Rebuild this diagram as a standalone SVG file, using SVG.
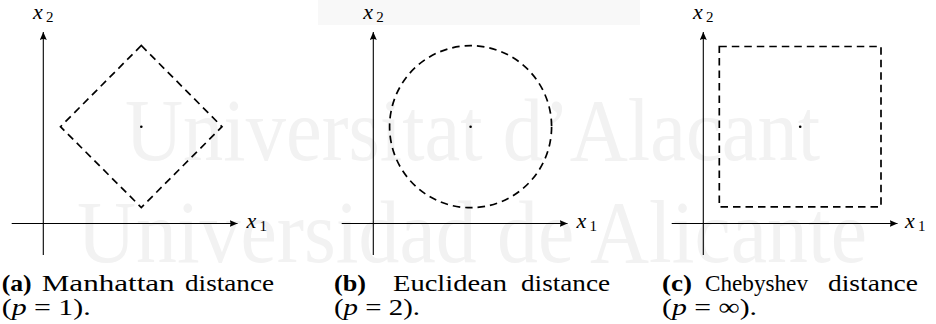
<svg xmlns="http://www.w3.org/2000/svg" width="936" height="324" viewBox="0 0 936 324">
<style>
  .wm { font-size: 88px; fill: #f2f2f2; }
  .ax { stroke: #000; stroke-width: 1.1; fill: none; }
  .dash { stroke: #000; stroke-width: 1.7; fill: none; stroke-dasharray: 7.5 5; }
  .lab { font-style: italic; font-size: 22px; fill: #000; }
  .sub { font-size: 15px; fill: #000; }
  .cap { font-size: 24px; fill: #000; }
  .b { font-weight: bold; }
  .i { font-style: italic; }
</style>
<defs>
  <marker id="arr" markerUnits="userSpaceOnUse" markerWidth="10" markerHeight="8" refX="8" refY="3.5" orient="auto">
    <path d="M0,0 L8,3.5 L0,7 Q2,3.5 0,0 z" fill="#000"/>
  </marker>
</defs>
<rect width="936" height="324" fill="#fff"/>
<g id="watermark" font-family="'Liberation Serif', 'Times New Roman', serif">
  <rect x="318" y="0" width="322" height="25" fill="#f8f8f8"/>
  <text class="wm" x="125" y="160" textLength="695" lengthAdjust="spacingAndGlyphs">Universitat d’Alacant</text>
  <text class="wm" x="77" y="262" textLength="790" lengthAdjust="spacingAndGlyphs">Universidad de Alicante</text>
</g>
<g id="connectors">
  <line class="ax" x1="43.3" y1="255" x2="43.3" y2="32" marker-end="url(#arr)"/>
  <line class="ax" x1="11.7" y1="223.5" x2="237.5" y2="223.5" marker-end="url(#arr)"/>
  <line class="ax" x1="373.3" y1="255" x2="373.3" y2="32" marker-end="url(#arr)"/>
  <line class="ax" x1="341.7" y1="223.5" x2="567.5" y2="223.5" marker-end="url(#arr)"/>
  <line class="ax" x1="703.3" y1="255" x2="703.3" y2="32" marker-end="url(#arr)"/>
  <line class="ax" x1="671.7" y1="223.5" x2="897.5" y2="223.5" marker-end="url(#arr)"/>
</g>
<g id="panel-a" font-family="'Liberation Serif', 'Times New Roman', serif">
  <text class="lab" x="33" y="18.5">x</text><text class="sub" x="46" y="22">2</text>
  <text class="lab" x="246.5" y="227.5">x</text><text class="sub" x="259.5" y="230.5">1</text>
  <path class="dash" d="M141.3,45.5 L222,126.7 L141.3,207.5 L60.5,126.7 Z"/>
  <circle cx="141.3" cy="126.7" r="1.3" fill="#000"/>
  <text class="cap b" x="1.7" y="291" textLength="30" lengthAdjust="spacingAndGlyphs">(a)</text>
  <text class="cap" x="41.7" y="291" textLength="133" lengthAdjust="spacingAndGlyphs">Manhattan</text>
  <text class="cap" x="185" y="291" textLength="89" lengthAdjust="spacingAndGlyphs">distance</text>
  <text class="cap" x="1.7" y="315" textLength="89" lengthAdjust="spacingAndGlyphs">(<tspan class="i">p</tspan> = 1).</text>
</g>
<g id="panel-b" font-family="'Liberation Serif', 'Times New Roman', serif">
  <text class="lab" x="363.3" y="18.5">x</text><text class="sub" x="376.3" y="22">2</text>
  <text class="lab" x="576.5" y="227.5">x</text><text class="sub" x="589.5" y="230.5">1</text>
  <circle class="dash" cx="470.6" cy="126.7" r="81"/>
  <circle cx="470.6" cy="126.7" r="1.3" fill="#000"/>
  <text class="cap b" x="334" y="291" textLength="32" lengthAdjust="spacingAndGlyphs">(b)</text>
  <text class="cap" x="393" y="291" textLength="114" lengthAdjust="spacingAndGlyphs">Euclidean</text>
  <text class="cap" x="521" y="291" textLength="89" lengthAdjust="spacingAndGlyphs">distance</text>
  <text class="cap" x="334" y="315" textLength="86" lengthAdjust="spacingAndGlyphs">(<tspan class="i">p</tspan> = 2).</text>
</g>
<g id="panel-c" font-family="'Liberation Serif', 'Times New Roman', serif">
  <text class="lab" x="693" y="18.5">x</text><text class="sub" x="706" y="22">2</text>
  <text class="lab" x="905" y="227.5">x</text><text class="sub" x="918" y="230.5">1</text>
  <rect class="dash" x="719.3" y="46.5" width="161.7" height="160.3"/>
  <circle cx="800.2" cy="126.7" r="1.3" fill="#000"/>
  <text class="cap b" x="662" y="291" textLength="30" lengthAdjust="spacingAndGlyphs">(c)</text>
  <text class="cap" x="705" y="291" textLength="103" lengthAdjust="spacingAndGlyphs">Chebyshev</text>
  <text class="cap" x="828" y="291" textLength="90" lengthAdjust="spacingAndGlyphs">distance</text>
  <text class="cap" x="662" y="315" textLength="95" lengthAdjust="spacingAndGlyphs">(<tspan class="i">p</tspan> = ∞).</text>
</g>
</svg>
